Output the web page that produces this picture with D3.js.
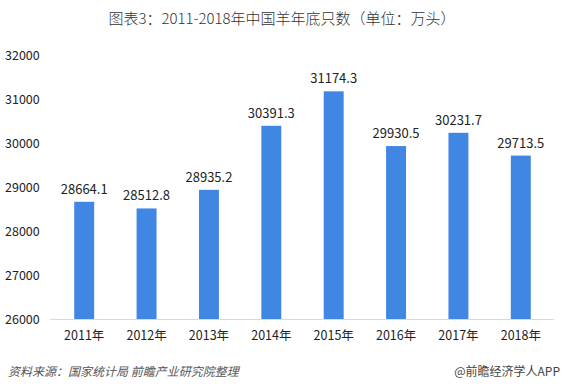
<!DOCTYPE html>
<html>
<head>
  <meta charset="utf-8">
  <script src="https://d3js.org/d3.v7.min.js"></script>
  <style>
    body { margin: 0; background: #fff; }
    text { font-family: "Microsoft YaHei", "Noto Sans CJK SC", "DejaVu Sans", sans-serif; }
    .title { font-size: 15px; fill: #333; text-anchor: middle; font-weight: 300; }
    .tick text { font-size: 12.5px; fill: #222; }
    .value-label { font-size: 13px; fill: #222; text-anchor: middle; }
    .source { font-size: 12px; fill: #555; font-style: italic; }
    .brand { font-size: 12px; fill: #444; text-anchor: end; }
  </style>
</head>
<body>
  <svg width="562" height="390"></svg>
  <script>
    var years = ["2011年", "2012年", "2013年", "2014年", "2015年", "2016年", "2017年", "2018年"];
    var values = [28664.1, 28512.8, 28935.2, 30391.3, 31174.3, 29930.5, 30231.7, 29713.5];
    var yTicks = [26000, 27000, 28000, 29000, 30000, 31000, 32000];

    var svg = d3.select("svg"),
        margin = {top: 55, right: 10, bottom: 71, left: 53},
        width = +svg.attr("width") - margin.left - margin.right,
        height = +svg.attr("height") - margin.top - margin.bottom;

    var barColor = "#4087E3";

    svg.append("text")
      .attr("class", "title")
      .attr("x", 282)
      .attr("y", 24)
      .text("图表3：2011-2018年中国羊年底只数（单位：万头）");

    var g = svg.append("g").attr("transform", "translate(" + margin.left + "," + margin.top + ")");

    var x = d3.scaleBand().domain(years).range([0, width]).paddingInner(0.68).paddingOuter(0.34);
    var y = d3.scaleLinear().domain([26000, 32000]).range([height, 0]);

    // y axis: labels only
    var yAxis = g.append("g")
      .call(d3.axisLeft(y).tickValues(yTicks).tickSize(0).tickPadding(0).tickFormat(d3.format("d")));
    yAxis.select(".domain").remove();
    yAxis.selectAll(".tick text").attr("text-anchor", "start").attr("x", -48);

    g.selectAll(".bar")
      .data(values)
      .enter().append("rect")
        .attr("class", "bar")
        .attr("x", (d, i) => x(years[i]))
        .attr("y", d => y(d))
        .attr("width", x.bandwidth())
        .attr("height", d => height - y(d))
        .attr("fill", barColor);

    g.selectAll(".value-label")
      .data(values)
      .enter().append("text")
        .attr("class", "value-label")
        .attr("x", (d, i) => x(years[i]) + x.bandwidth() / 2)
        .attr("y", d => y(d) - 8)
        .text(d => d3.format(".1f")(d));

    // x axis
    var xAxis = g.append("g")
      .attr("transform", "translate(0," + height + ")")
      .call(d3.axisBottom(x).tickSize(0).tickPadding(12));
    xAxis.select(".domain").attr("stroke", "#d9d9d9").attr("d", "M-3,0.5H" + (width + 2) + "");

    svg.append("text")
      .attr("class", "source")
      .attr("x", 8)
      .attr("y", 376)
      .text("资料来源：国家统计局 前瞻产业研究院整理");

    svg.append("text")
      .attr("class", "brand")
      .attr("x", 560)
      .attr("y", 376)
      .text("@前瞻经济学人APP");
  </script>
</body>
</html>
